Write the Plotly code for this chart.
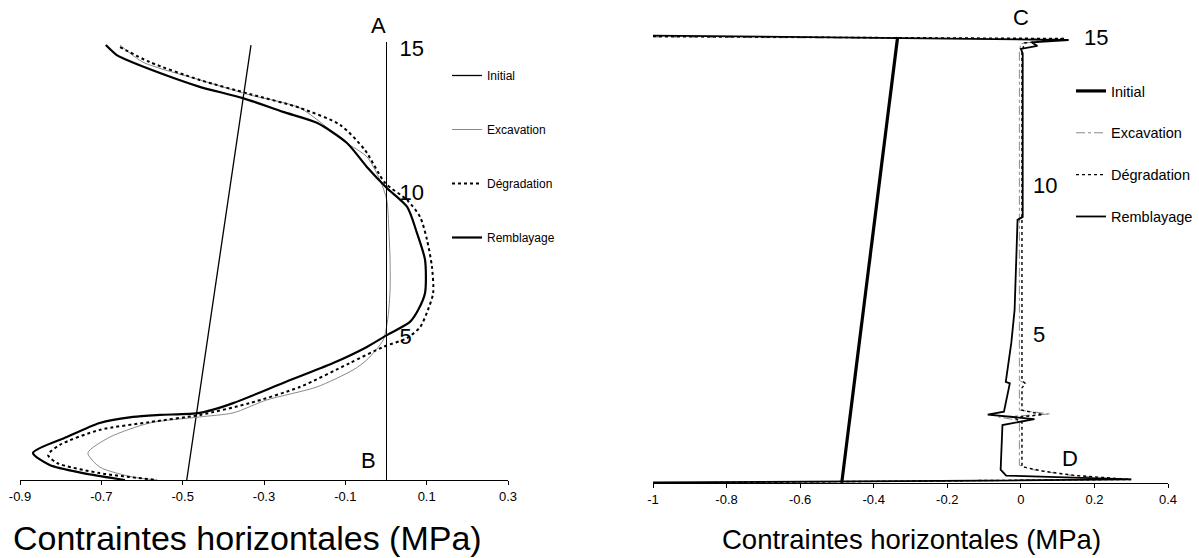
import plotly.graph_objects as go

# ---------------- Data : left panel (profile A-B) ----------------
L_init_x = [-0.490, -0.332]
L_init_y = [0.0, 15.1]

L_exc_x = [-0.654, -0.598, -0.458, -0.335, -0.212, -0.101, -0.047, -0.015, 0.002, 0.007, 0.010, 0.010, 0.005,
           -0.007, -0.047, -0.081, -0.170, -0.293, -0.376, -0.458, -0.581, -0.679, -0.733, -0.704, -0.622, -0.563]
L_exc_y = [15.10, 14.51, 13.89, 13.37, 12.92, 11.74, 11.22, 10.42, 9.72, 8.68, 7.64, 6.60, 5.66,
           4.86, 4.17, 3.82, 3.23, 2.78, 2.33, 2.19, 1.98, 1.49, 0.94, 0.45, 0.10, 0.00]

L_deg_x = [-0.654, -0.581, -0.458, -0.335, -0.212, -0.113, -0.052, -0.002, 0.052, 0.084, 0.101, 0.113, 0.116,
           0.103, 0.084, 0.052, -0.007, -0.089, -0.212, -0.335, -0.458, -0.581, -0.704, -0.802, -0.831, -0.809,
           -0.704, -0.563]
L_deg_y = [15.03, 14.51, 13.89, 13.40, 12.92, 12.33, 11.46, 10.31, 9.72, 9.13, 8.33, 7.40, 6.49,
           5.90, 5.31, 4.93, 4.62, 4.06, 3.23, 2.67, 2.26, 2.01, 1.74, 1.22, 0.87, 0.59,
           0.24, 0.00]

L_rem_x = [-0.689, -0.662, -0.637, -0.556, -0.458, -0.352, -0.253, -0.170, -0.096, -0.047, 0.002, 0.052, 0.076,
           0.096, 0.096, 0.079, 0.059, 0.002, -0.047, -0.130, -0.253, -0.376, -0.458, -0.556, -0.622, -0.704,
           -0.785, -0.868, -0.827, -0.745, -0.642]
L_rem_y = [15.10, 14.75, 14.58, 14.13, 13.65, 13.26, 12.78, 12.40, 11.70, 10.87, 10.14, 9.48, 8.58,
           7.64, 6.49, 5.90, 5.49, 5.03, 4.62, 4.06, 3.37, 2.67, 2.33, 2.26, 2.19, 1.98,
           1.49, 0.94, 0.52, 0.24, 0.00]

# ---------------- Data : right panel (profile C-D) ----------------
R_init_x = [-0.487, -0.335]
R_init_y = [0.0, 15.0]

R_exc_x = [-1.0, 0.10, 0.00, -0.004, -0.004, 0.006, -0.004, -0.004, 0.080, -0.060, -0.004, -0.004, 0.030,
           0.120, 0.250, -0.300, -1.0]
R_exc_y = [15.00, 14.93, 14.78, 14.50, 3.45, 3.38, 3.30, 2.45, 2.32, 2.22, 2.10, 0.60, 0.45,
           0.28, 0.14, 0.05, 0.00]

R_deg_x = [-1.0, 0.12, 0.01, 0.003, 0.003, 0.012, 0.003, 0.003, 0.060, -0.020, 0.003, 0.003, 0.060,
           0.150, 0.300, -1.0]
R_deg_y = [15.02, 14.95, 14.80, 14.50, 3.45, 3.35, 3.20, 2.45, 2.30, 2.20, 2.05, 0.55, 0.40,
           0.25, 0.12, 0.00]

R_rem_x = [-1.0, 0.13, 0.03, 0.045, 0.0, 0.005, 0.005, -0.009, -0.017, -0.026, -0.041, -0.030, -0.046,
           -0.090, 0.037, -0.050, -0.055, -0.040, 0.300, -0.100, -1.0]
R_rem_y = [15.05, 14.90, 14.82, 14.70, 14.60, 14.45, 8.95, 8.85, 5.82, 4.71, 3.40, 3.35, 2.40,
           2.30, 2.15, 1.95, 0.45, 0.25, 0.12, 0.08, 0.02]

series_names = ["Initial", "Excavation", "Dégradation", "Remblayage"]

L_ticks = [-0.9, -0.7, -0.5, -0.3, -0.1, 0.1, 0.3]
L_ticktext = ["-0.9", "-0.7", "-0.5", "-0.3", "-0.1", "0.1", "0.3"]
R_ticks = [-1.0, -0.8, -0.6, -0.4, -0.2, 0.0, 0.2, 0.4]
R_ticktext = ["-1", "-0.8", "-0.6", "-0.4", "-0.2", "0", "0.2", "0.4"]
x_title = "Contraintes horizontales (MPa)"

FONT = "Arial, Liberation Sans, sans-serif"
W, H = 1199, 558

fig = go.Figure()

left_styles = [
    dict(color="black", width=1.3),
    dict(color="#8a8a8a", width=1, shape="spline", smoothing=0.7),
    dict(color="black", width=2, dash="dot", shape="spline", smoothing=0.7),
    dict(color="black", width=2.2, shape="spline", smoothing=0.7),
]
left_data = [(L_init_x, L_init_y), (L_exc_x, L_exc_y), (L_deg_x, L_deg_y), (L_rem_x, L_rem_y)]
for i, ((xs, ys), st) in enumerate(zip(left_data, left_styles)):
    fig.add_trace(go.Scatter(x=xs, y=ys, mode="lines", name=series_names[i], line=st,
                             xaxis="x", yaxis="y", legend="legend", legendgroup="L%d" % i))

right_styles = [
    dict(color="black", width=3.2),
    dict(color="#8a8a8a", width=1, dash="dashdot"),
    dict(color="black", width=1.4, dash="dot"),
    dict(color="black", width=1.8),
]
right_data = [(R_init_x, R_init_y), (R_exc_x, R_exc_y), (R_deg_x, R_deg_y), (R_rem_x, R_rem_y)]
for i, ((xs, ys), st) in enumerate(zip(right_data, right_styles)):
    fig.add_trace(go.Scatter(x=xs, y=ys, mode="lines", name=series_names[i], line=st,
                             xaxis="x2", yaxis="y2", legend="legend2", legendgroup="R%d" % i))


def xaxis_common():
    return dict(showline=True, linecolor="black", linewidth=1, ticks="outside", ticklen=4,
                tickcolor="black", tickfont=dict(size=13, color="black", family=FONT),
                showgrid=False, zeroline=False, automargin=False)


fig.update_layout(
    width=W, height=H,
    margin=dict(l=0, r=0, t=0, b=0, autoexpand=False),
    paper_bgcolor="white", plot_bgcolor="white",
    font=dict(family=FONT, color="black"),
    xaxis=dict(domain=[20 / W, 508 / W], range=[-0.9, 0.3], anchor="y",
               tickvals=L_ticks, ticktext=L_ticktext, **xaxis_common()),
    yaxis=dict(domain=[1 - 480 / H, 1 - 42.2 / H], range=[0, 15.2], anchor="free",
               position=386 / W, side="right", showline=True, linecolor="black", linewidth=1,
               ticks="", tickvals=[5, 10, 15], ticktext=["5", "10", "15"],
               tickfont=dict(size=22, color="black", family=FONT), ticklabelstandoff=8,
               showgrid=False, zeroline=False, automargin=False),
    xaxis2=dict(domain=[653 / W, 1168 / W], range=[-1.0, 0.4], anchor="y2",
                tickvals=R_ticks, ticktext=R_ticktext, **xaxis_common()),
    yaxis2=dict(domain=[1 - 483 / H, 1 - 28.1 / H], range=[0, 15.3], anchor="free",
                position=1020 / W, side="right", showline=False,
                ticks="", tickvals=[5, 10], ticktext=["5", "10"],
                tickfont=dict(size=22, color="black", family=FONT), ticklabelstandoff=12,
                showgrid=False, zeroline=False, automargin=False),
    legend=dict(x=447 / W, y=1 - 61 / H, xanchor="left", yanchor="top",
                font=dict(size=12, color="black", family=FONT), itemwidth=30,
                tracegroupgap=35, bgcolor="rgba(0,0,0,0)", traceorder="grouped"),
    legend2=dict(x=1071 / W, y=1 - 75 / H, xanchor="left", yanchor="top",
                 font=dict(size=14.5, color="black", family=FONT), itemwidth=30,
                 tracegroupgap=20, bgcolor="rgba(0,0,0,0)", traceorder="grouped"),
    showlegend=True,
)

letter_font = dict(size=22, color="black", family=FONT)
# point labels and axis titles (paper coordinates, pixel-derived)
annots = [
    dict(text="A", x=378 / W, y=1 - 25 / H),
    dict(text="C", x=1021 / W, y=1 - 18 / H),
]
for a in annots:
    fig.add_annotation(showarrow=False, font=letter_font, xref="paper", yref="paper",
                       xanchor="center", yanchor="middle", **a)
fig.add_annotation(text="B", x=-0.044, y=0.69, xref="x", yref="y", showarrow=False, font=letter_font)
fig.add_annotation(text="D", x=0.133, y=0.81, xref="x2", yref="y2", showarrow=False, font=letter_font)
fig.add_annotation(text="15", x=0.205, y=15.0, xref="x2", yref="y2", showarrow=False, font=letter_font)

fig.add_annotation(text=x_title, x=247 / W, y=1 - 538 / H, xref="paper", yref="paper",
                   xanchor="center", yanchor="middle", showarrow=False,
                   font=dict(size=34, color="black", family=FONT))
fig.add_annotation(text=x_title, x=911 / W, y=1 - 539 / H, xref="paper", yref="paper",
                   xanchor="center", yanchor="middle", showarrow=False,
                   font=dict(size=27.5, color="black", family=FONT))

fig.write_html("out.html", config={"displayModeBar": False},
               post_script="document.body.style.margin='0';document.body.style.overflow='hidden';")
